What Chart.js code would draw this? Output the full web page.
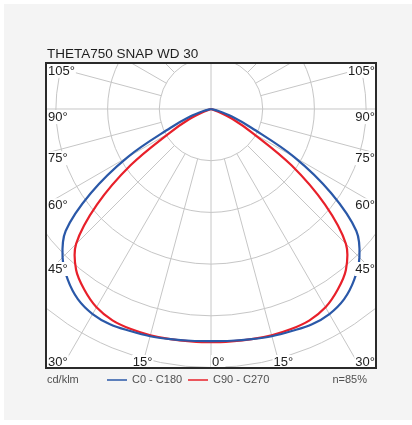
<!DOCTYPE html>
<html><head><meta charset="utf-8">
<script src="https://cdn.jsdelivr.net/npm/chart.js@4.4.1/dist/chart.umd.min.js"></script>
<style>
html,body{margin:0;padding:0;background:#fff;}
canvas{display:block;}
</style></head><body>
<canvas id="c" width="412" height="425"></canvas>
<script>
// ---- data ----
const chartTitle = 'THETA750 SNAP WD 30';
const unitLabel = 'cd/klm';
const efficiencyLabel = 'n=85%';
const seriesNames = ['C0 - C180', 'C90 - C270'];
const gammaAngles   = [0, 5, 10, 15, 20, 25, 30, 35, 40, 45, 50, 55, 60, 65, 70, 75, 80, 90];
const intensityC0   = [449, 450, 452, 455, 457, 460, 458, 449, 431, 406, 367, 284, 186, 87, 43, 15, 0, 0];
const intensityC90  = [451, 451, 452, 453, 453, 451, 443, 427, 406, 369, 288, 190, 93, 46, 15, 0, 0, 0];
const ringValues = [100, 200, 300, 400, 500, 600];
const spokeStep = 15;
const sideLabelAngles = [105, 90, 75, 60, 45];
const bottomLabelAngles = [30, 15, 0];

const FONT = '"Liberation Sans", Arial, Helvetica, sans-serif';
const BLUE = '#2a58a8';
const RED = '#e8202a';

function buildPoints(vals) {
  let end = vals.findIndex(v => v === 0);
  if (end < 0) end = vals.length - 1;
  const pts = [];
  for (let i = end; i >= 0; i--) {
    const a = gammaAngles[i] * Math.PI / 180;
    pts.push({x: -vals[i] * Math.sin(a), y: -vals[i] * Math.cos(a)});
  }
  for (let i = 1; i <= end; i++) {
    const a = gammaAngles[i] * Math.PI / 180;
    pts.push({x: vals[i] * Math.sin(a), y: -vals[i] * Math.cos(a)});
  }
  return pts;
}

const polarPlugin = {
  id: 'polar',
  beforeDraw(chart) {
    const ctx = chart.ctx, ca = chart.chartArea;
    ctx.save();
    ctx.fillStyle = '#fff';
    ctx.fillRect(0, 0, chart.width, chart.height);
    ctx.fillStyle = '#f4f4f4';
    ctx.fillRect(4, 4, 408, 416);
    ctx.fillStyle = '#fff';
    ctx.fillRect(ca.left, ca.top, ca.right - ca.left, ca.bottom - ca.top);
    ctx.restore();
  },
  beforeDatasetsDraw(chart) {
    const ctx = chart.ctx, ca = chart.chartArea;
    const sx = chart.scales.x, sy = chart.scales.y;
    const cx = sx.getPixelForValue(0), cy = sy.getPixelForValue(0);
    ctx.save();
    ctx.beginPath();
    ctx.rect(ca.left, ca.top, ca.right - ca.left, ca.bottom - ca.top);
    ctx.clip();
    ctx.strokeStyle = '#c6c6c6';
    ctx.lineWidth = 1;
    ringValues.forEach(r => {
      ctx.beginPath();
      ctx.arc(cx, cy, (sx.getPixelForValue(r) - cx), 0, Math.PI * 2);
      ctx.stroke();
    });
    const rIn = sx.getPixelForValue(ringValues[0]) - cx;
    const rOut = 2000;
    for (let a = 0; a < 360; a += spokeStep) {
      const rad = a * Math.PI / 180;
      const dx = Math.sin(rad), dy = Math.cos(rad);
      const start = (a % 90 === 0) ? 0 : rIn;
      ctx.beginPath();
      ctx.moveTo(cx + dx * start, cy + dy * start);
      ctx.lineTo(cx + dx * rOut, cy + dy * rOut);
      ctx.stroke();
    }
    ctx.restore();
  },
  afterDatasetsDraw(chart) {
    const ctx = chart.ctx, ca = chart.chartArea;
    const sx = chart.scales.x, sy = chart.scales.y;
    const cx = sx.getPixelForValue(0), cy = sy.getPixelForValue(0);
    ctx.save();
    ctx.font = '13px ' + FONT;
    ctx.textBaseline = 'middle';
    const sideDy = {105: 6, 90: 8, 75: 5, 60: 1, 45: -5};
    function label(text, x, y, align) {
      const w = ctx.measureText(text).width;
      let lx = align === 'left' ? x : align === 'right' ? x - w : x - w / 2;
      ctx.fillStyle = '#fff';
      ctx.fillRect(lx - 1, y - 7, w + 2, 14);
      ctx.fillStyle = '#1e1e1e';
      ctx.textAlign = 'left';
      ctx.fillText(text, lx, y + 0.5);
    }
    sideLabelAngles.forEach(a => {
      const rad = a * Math.PI / 180;
      const t = (cx - ca.left) / Math.sin(rad);
      const iy = cy + Math.cos(rad) * t;
      const y = iy + sideDy[a];
      label(a + '°', ca.left + 2, y, 'left');
      label(a + '°', ca.right - 1, y, 'right');
    });
    const by = ca.bottom - 6;
    bottomLabelAngles.forEach(a => {
      const rad = a * Math.PI / 180;
      const ix = (ca.bottom - cy) * Math.tan(rad);
      if (a === 0) {
        label(a + '°', cx + 1, by, 'left');
      } else if (cx - ix - 20 < ca.left) {
        label(a + '°', ca.left + 2, by, 'left');
        label(a + '°', ca.right - 1, by, 'right');
      } else {
        label(a + '°', cx - ix + 1, by, 'center');
        label(a + '°', cx + ix + 3, by, 'center');
      }
    });
    ctx.strokeStyle = '#2a2a2a';
    ctx.lineWidth = 2;
    ctx.strokeRect(ca.left, ca.top, ca.right - ca.left, ca.bottom - ca.top);
    ctx.restore();
  },
  afterDraw(chart) {
    const ctx = chart.ctx, ca = chart.chartArea;
    ctx.save();
    ctx.fillStyle = '#1e1e1e';
    ctx.font = '13.5px ' + FONT;
    ctx.textAlign = 'left';
    ctx.textBaseline = 'alphabetic';
    ctx.fillText(chartTitle, ca.left + 1, ca.top - 5);
    const ly = ca.bottom + 12;
    ctx.font = '11px ' + FONT;
    ctx.textBaseline = 'middle';
    ctx.fillStyle = '#505050';
    ctx.fillText(unitLabel, ca.left + 1, ly);
    const items = [[BLUE, 107, seriesNames[0]], [RED, 188, seriesNames[1]]];
    items.forEach(([col, x, txt]) => {
      ctx.strokeStyle = col;
      ctx.lineWidth = 1.5;
      ctx.beginPath();
      ctx.moveTo(x, ly); ctx.lineTo(x + 20, ly);
      ctx.stroke();
      ctx.fillStyle = '#505050';
      ctx.fillText(txt, x + 25, ly);
    });
    ctx.textAlign = 'right';
    ctx.fillText(efficiencyLabel, ca.right - 9, ly);
    ctx.restore();
  }
};

new Chart(document.getElementById('c'), {
  type: 'scatter',
  data: {
    datasets: [
      {label: seriesNames[0], data: buildPoints(intensityC0), showLine: true, borderColor: BLUE,
       borderWidth: 2.2, pointRadius: 0, tension: 0.35, fill: false},
      {label: seriesNames[1], data: buildPoints(intensityC90), showLine: true, borderColor: RED,
       borderWidth: 2.2, pointRadius: 0, tension: 0.35, fill: false}
    ]
  },
  options: {
    responsive: false,
    animation: false,
    devicePixelRatio: 1,
    layout: {padding: {left: 46, top: 63, right: 36, bottom: 57}},
    scales: {
      x: {type: 'linear', min: -319.15, max: 319.15, display: false},
      y: {type: 'linear', min: -500.97, max: 88.97, display: false}
    },
    plugins: {legend: {display: false}, tooltip: {enabled: false}, title: {display: false}}
  },
  plugins: [polarPlugin]
});
</script>
</body></html>
